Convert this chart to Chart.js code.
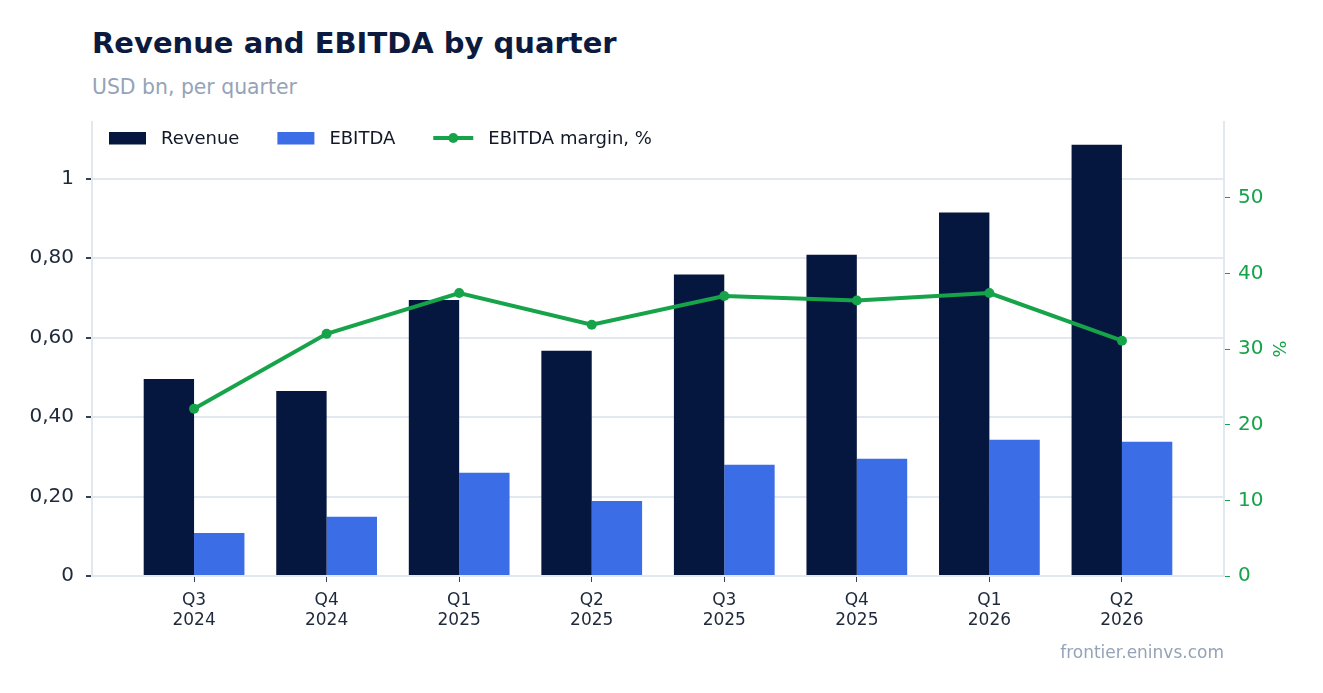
<!DOCTYPE html>
<html>
<head>
<meta charset="utf-8">
<script src="https://cdn.jsdelivr.net/npm/chart.js@4.4.1/dist/chart.umd.min.js"></script>
<style>
  html, body { margin: 0; padding: 0; background: #fff; }
  body { width: 1323px; height: 693px; position: relative; overflow: hidden; font-family: "DejaVu Sans", sans-serif; }
  #chart { position: absolute; left: 0; top: 0; }
  .title { position: absolute; left: 92px; top: 29px; font-size: 29px; line-height: 1; font-weight: bold; color: #0b1a3e; white-space: nowrap; }
  .subtitle { position: absolute; left: 92px; top: 77px; font-size: 20.4px; line-height: 1; color: #94a3b8; white-space: nowrap; }
  .source { position: absolute; right: 99px; top: 644px; font-size: 17px; line-height: 1; color: #94a3b8; white-space: nowrap; }
</style>
</head>
<body>
<div class="title">Revenue and EBITDA by quarter</div>
<div class="subtitle">USD bn, per quarter</div>
<canvas id="chart" width="1323" height="693"></canvas>
<div class="source">frontier.eninvs.com</div>
<script>
// данные с картинки
const quarters = ["Q3", "Q4", "Q1", "Q2", "Q3", "Q4", "Q1", "Q2"];
const years = ["2024", "2024", "2025", "2025", "2025", "2025", "2026", "2026"];
const revenue = [0.496, 0.466, 0.695, 0.567, 0.759, 0.809, 0.915, 1.086];
const ebitda = [0.108, 0.149, 0.260, 0.189, 0.280, 0.295, 0.343, 0.338];
const margin = [22.1, 32.0, 37.4, 33.2, 37.0, 36.4, 37.4, 31.1];
const yTickValues = [0, 0.2, 0.4, 0.6, 0.8, 1];
const yTickLabels = ["0", "0,20", "0,40", "0,60", "0,80", "1"];
const pctTickValues = [0, 10, 20, 30, 40, 50];

const navy = "#05173f";
const blue = "#3b6de6";
const green = "#16a34a";
const gridColor = "#e2e8f0";

// точки по индексу квартала (ось x линейная, чтобы были поля по краям)
const toXY = arr => arr.map((v, i) => ({x: i, y: v}));

Chart.defaults.font.family = '"DejaVu Sans", sans-serif';

// легенда внутри области графика
const insideLegend = {
  id: "insideLegend",
  afterDraw(chart){
    const {ctx, chartArea} = chart;
    ctx.save();
    ctx.font = '18px "DejaVu Sans"';
    ctx.textBaseline = "middle";
    let x = chartArea.left + 17;
    const y = chartArea.top + 16;
    chart.data.datasets.forEach(ds => {
      let w;
      if(ds.type === "line"){
        w = 40;
        ctx.strokeStyle = ds.borderColor;
        ctx.lineWidth = 4;
        ctx.beginPath();
        ctx.moveTo(x, y); ctx.lineTo(x + w, y);
        ctx.stroke();
        ctx.fillStyle = ds.borderColor;
        ctx.beginPath();
        ctx.arc(x + w / 2, y, 5, 0, Math.PI * 2);
        ctx.fill();
      } else {
        w = 37;
        ctx.fillStyle = ds.backgroundColor;
        ctx.fillRect(x, y - 6, w, 12.5);
      }
      ctx.fillStyle = "#111827";
      ctx.fillText(ds.label, x + w + 15, y + 1.5);
      x += w + 15 + ctx.measureText(ds.label).width + 38;
    });
    ctx.restore();
  }
};

new Chart(document.getElementById("chart").getContext("2d"), {
  type: "bar",
  data: {
    datasets: [
      {type: "bar", label: "Revenue", data: toXY(revenue), backgroundColor: navy, yAxisID: "y", order: 2,
       categoryPercentage: 0.76, barPercentage: 1},
      {type: "bar", label: "EBITDA", data: toXY(ebitda), backgroundColor: blue, yAxisID: "y", order: 2,
       categoryPercentage: 0.76, barPercentage: 1},
      {type: "line", label: "EBITDA margin, %", data: toXY(margin), borderColor: green, backgroundColor: green,
       borderWidth: 4, pointRadius: 5, pointHoverRadius: 5, pointBackgroundColor: green, pointBorderWidth: 0,
       tension: 0, yAxisID: "y1", order: 0}
    ]
  },
  options: {
    responsive: false,
    animation: false,
    devicePixelRatio: 1,
    layout: {padding: {top: 122, left: 0, right: 31, bottom: 0}},
    plugins: {legend: {display: false}, tooltip: {enabled: false}},
    scales: {
      x: {
        type: "linear",
        min: -0.77, max: quarters.length - 1 + 0.77,
        offset: false,
        grid: {offset: false, drawOnChartArea: false, color: gridColor, tickColor: "#334155", tickLength: 6},
        border: {color: gridColor, width: 2},
        ticks: {color: "#1e293b", font: {size: 17}, padding: 8, maxRotation: 0,
                callback: v => [quarters[v], years[v]]},
        afterBuildTicks: s => { s.ticks = quarters.map((q, i) => ({value: i})); },
        afterFit: s => { s.height = 117; }
      },
      y: {
        position: "left",
        min: 0, max: 1.143,
        grid: {color: gridColor, lineWidth: 2, tickColor: "#334155", tickLength: 6},
        border: {color: gridColor, width: 2},
        ticks: {color: "#1e293b", font: {size: 20}, padding: 12,
                callback: (v, i) => yTickLabels[i]},
        afterBuildTicks: s => { s.ticks = yTickValues.map(v => ({value: v})); },
        afterFit: s => { s.width = 92; }
      },
      y1: {
        position: "right",
        min: 0, max: 60,
        grid: {drawOnChartArea: false, tickColor: green, tickLength: 6},
        border: {color: gridColor, width: 2},
        ticks: {color: green, font: {size: 20}, padding: 8, callback: v => String(v)},
        afterBuildTicks: s => { s.ticks = pctTickValues.map(v => ({value: v})); },
        title: {display: true, text: "%", color: green, font: {size: 18}},
        afterFit: s => { s.width = 68; }
      }
    }
  },
  plugins: [insideLegend]
});
</script>
</body>
</html>
